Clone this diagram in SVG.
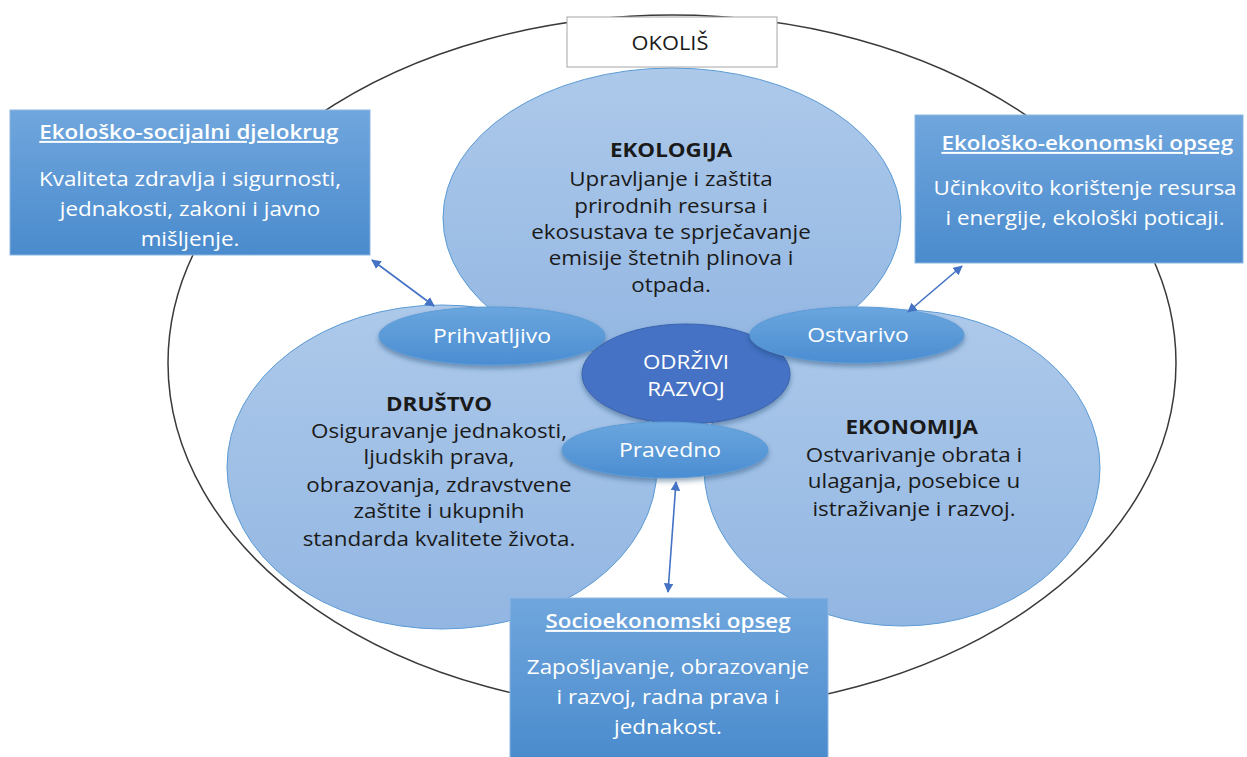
<svg xmlns="http://www.w3.org/2000/svg" width="1247" height="757" viewBox="0 0 1247 757">
<style>
.t{font-family:"Open Sans",Lato,"Liberation Sans",sans-serif;font-size:20px;text-anchor:middle}
.lb{font-size:20.5px}
.dk{fill:#1a1a1a}
.wh{fill:#ffffff}
.b{font-weight:bold}
.u{text-decoration:underline;font-weight:600}
.big{fill:url(#gBig);stroke:#5b9bd5;stroke-width:1}
.sm{fill:url(#gSm);stroke:#5b9bd5;stroke-width:1;filter:url(#sh)}
.box{fill:url(#gBox);stroke:#8db5e2;stroke-width:1}
.arr{stroke:#4472c4;stroke-width:1.6;fill:none;marker-start:url(#ah);marker-end:url(#ah)}
</style>
<defs>
<linearGradient id="gBig" x1="0" y1="0" x2="0" y2="1">
<stop offset="0" stop-color="#adc9ea"/>
<stop offset="1" stop-color="#92b6e2"/>
</linearGradient>
<linearGradient id="gSm" x1="0" y1="0" x2="0" y2="1">
<stop offset="0" stop-color="#6aa6de"/>
<stop offset="1" stop-color="#4b8dd2"/>
</linearGradient>
<linearGradient id="gBox" x1="0" y1="0" x2="0" y2="1">
<stop offset="0" stop-color="#70a6dd"/>
<stop offset="1" stop-color="#4a8bcd"/>
</linearGradient>
<filter id="sh" x="-20%" y="-30%" width="140%" height="170%">
<feDropShadow dx="0" dy="3" stdDeviation="2.5" flood-color="#1f3f6a" flood-opacity="0.45"/>
</filter>
<marker id="ah" viewBox="0 0 10 10" refX="9" refY="5" markerWidth="6" markerHeight="6" orient="auto-start-reverse" markerUnits="strokeWidth">
<path d="M0,0 L10,5 L0,10 z" fill="#4472c4"/>
</marker>
</defs>
<rect x="0" y="0" width="1247" height="757" fill="#ffffff"/>

<g id="okolis-ellipse">
<ellipse cx="672" cy="363" rx="504" ry="348" fill="none" stroke="#3a3a3a" stroke-width="1.5"/>
</g>

<g id="ekologija">
<ellipse class="big" cx="672" cy="218" rx="229" ry="150"/>
<g transform="matrix(1.12,0,0,1,671,0)">
<text class="t dk b" x="0" y="157">EKOLOGIJA</text>
<text class="t dk" x="0" y="186">Upravljanje i zaštita</text>
<text class="t dk" x="0" y="213">prirodnih resursa i</text>
<text class="t dk" x="0" y="239">ekosustava te sprječavanje</text>
<text class="t dk" x="0" y="265">emisije štetnih plinova i</text>
<text class="t dk" x="0" y="292">otpada.</text>
</g>
</g>

<g id="drustvo">
<ellipse class="big" cx="442" cy="467" rx="215" ry="162"/>
<g transform="matrix(1.12,0,0,1,439,0)">
<text class="t dk b" x="0" y="411">DRUŠTVO</text>
<text class="t dk" x="0" y="438">Osiguravanje jednakosti,</text>
<text class="t dk" x="0" y="464">ljudskih prava,</text>
<text class="t dk" x="0" y="492">obrazovanja, zdravstvene</text>
<text class="t dk" x="0" y="518">zaštite i ukupnih</text>
<text class="t dk" x="0" y="546">standarda kvalitete života.</text>
</g>
</g>

<g id="ekonomija">
<ellipse class="big" cx="902" cy="468" rx="198" ry="158"/>
<g transform="matrix(1.12,0,0,1,914,0)">
<text class="t dk b" x="-2" y="434">EKONOMIJA</text>
<text class="t dk" x="0" y="462">Ostvarivanje obrata i</text>
<text class="t dk" x="0" y="488">ulaganja, posebice u</text>
<text class="t dk" x="0" y="516">istraživanje i razvoj.</text>
</g>
</g>

<g id="prihvatljivo">
<ellipse class="sm" cx="492" cy="336" rx="113" ry="29"/>
<text class="t lb wh" transform="matrix(1.12,0,0,1,492,0)" x="0" y="343">Prihvatljivo</text>
</g>

<g id="odrzivi-razvoj">
<ellipse cx="686" cy="374" rx="104" ry="50" fill="#4472c4" stroke="#3a63ad" stroke-width="1" filter="url(#sh)"/>
<g transform="matrix(1.12,0,0,1,686,0)">
<text class="t wh" x="0" y="369">ODRŽIVI</text>
<text class="t wh" x="0" y="396">RAZVOJ</text>
</g>
</g>

<g id="ostvarivo">
<ellipse class="sm" cx="857" cy="335" rx="107" ry="28"/>
<text class="t lb wh" transform="matrix(1.12,0,0,1,858,0)" x="0" y="342">Ostvarivo</text>
</g>

<g id="pravedno">
<ellipse class="sm" cx="665" cy="450" rx="103" ry="28"/>
<text class="t lb wh" transform="matrix(1.12,0,0,1,670,0)" x="0" y="457">Pravedno</text>
</g>

<g id="okolis">
<rect x="567" y="17" width="210" height="50" fill="#ffffff" stroke="#a6a6a6" stroke-width="1"/>
<text class="t" transform="matrix(1.12,0,0,1,670,0)" x="0" y="50" fill="#1a1a1a" style="font-size:19.5px">OKOLIŠ</text>
</g>

<g id="ekolosko-socijalni">
<rect class="box" x="10" y="110" width="360" height="145"/>
<g transform="matrix(1.12,0,0,1,190,0)">
<text class="t wh u" x="-1" y="139">Ekološko-socijalni djelokrug</text>
<text class="t wh" x="0" y="186">Kvaliteta zdravlja i sigurnosti,</text>
<text class="t wh" x="0" y="216">jednakosti, zakoni i javno</text>
<text class="t wh" x="0" y="246">mišljenje.</text>
</g>
</g>

<g id="ekolosko-ekonomski">
<rect class="box" x="915" y="115" width="328" height="148"/>
<g transform="matrix(1.12,0,0,1,1085,0)">
<text class="t wh u" x="2" y="150">Ekološko-ekonomski opseg</text>
<text class="t wh" x="0" y="195">Učinkovito korištenje resursa</text>
<text class="t wh" x="0" y="225">i energije, ekološki poticaji.</text>
</g>
</g>

<g id="socioekonomski">
<rect class="box" x="510" y="598" width="318" height="162"/>
<g transform="matrix(1.12,0,0,1,668,0)">
<text class="t wh u" x="0" y="628">Socioekonomski opseg</text>
<text class="t wh" x="0" y="674">Zapošljavanje, obrazovanje</text>
<text class="t wh" x="0" y="704">i razvoj, radna prava i</text>
<text class="t wh" x="0" y="734">jednakost.</text>
</g>
</g>

<g id="connectors">
<line class="arr" x1="372" y1="260" x2="434" y2="306"/>
<line class="arr" x1="962" y1="266" x2="908" y2="312"/>
<line class="arr" x1="676" y1="482" x2="668" y2="592"/>
</g>
</svg>
